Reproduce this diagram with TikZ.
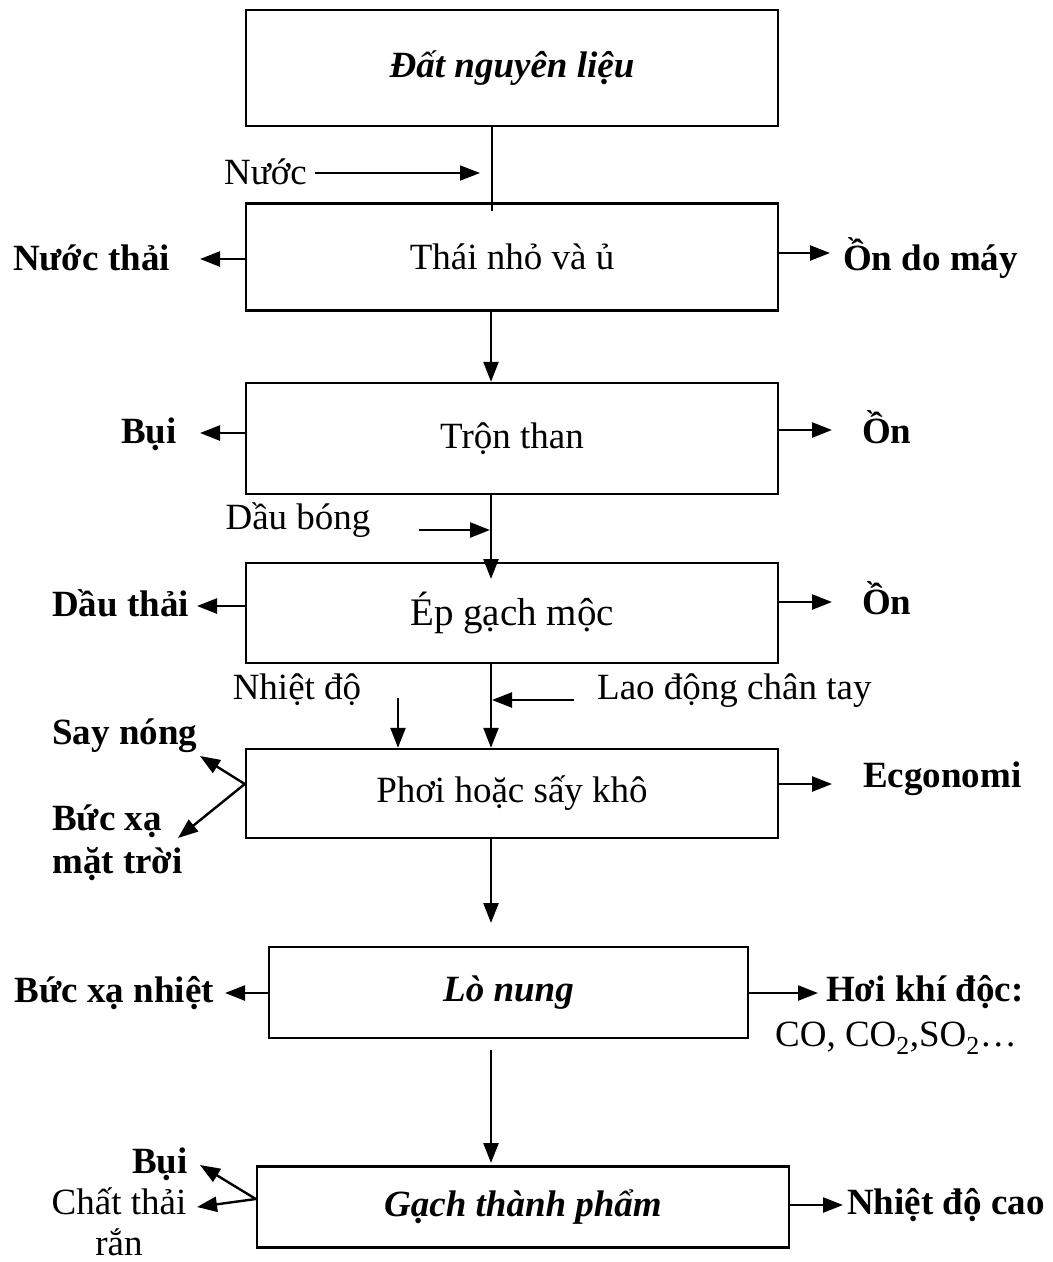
\documentclass[tikz,border=0pt]{standalone}
\usepackage{fontspec}
\setmainfont{Liberation Serif}
\usetikzlibrary{arrows.meta}
\begin{document}
\begin{tikzpicture}[x=1pt,y=-1pt,
  every node/.style={font=\fontsize{37}{43}\selectfont, inner sep=0pt},
  box/.style={draw, line width=2.4pt, minimum width=532pt},
  tip/.style={-{Triangle[length=20pt,width=15pt]}},
  arr/.style={line width=2.4pt, tip},
  thin/.style={line width=1.8pt}]
\useasboundingbox (0,0) rectangle (1053,1262);

% process boxes
\node[box, minimum height=116pt] (b1) at (512,68) {\textbf{\textit{Đất nguyên liệu}}};
\node[box, minimum height=107pt] (b2) at (512,257) {Thái nhỏ và ủ};
\node[box, minimum height=111pt] (b3) at (512,438.5) {Trộn than};
\node[box, minimum height=100pt] (b4) at (512,613) {\fontsize{39}{44}\selectfont Ép gạch mộc};
\node[box, minimum height=89pt] (b5) at (512,793.5) {Phơi hoặc sấy khô};
\node[box, minimum width=479pt, minimum height=91pt] (b6) at (508.5,992.5) {\textbf{\textit{Lò nung}}};
\node[box, minimum height=81pt] (b7) at (523,1207) {\textbf{\textit{Gạch thành phẩm}}};

% inputs and outputs
\node[anchor=mid east] (nuoc) at (307,182) {Nước};
\node[anchor=mid east] (nuocthai) at (170,268) {\textbf{Nước thải}};
\node[anchor=mid west] (onmay) at (843,268) {\textbf{Ồn do máy}};
\node[anchor=mid east] (bui1) at (177,441) {\textbf{Bụi}};
\node[anchor=mid west] (on1) at (862,441) {\textbf{Ồn}};
\node[anchor=mid] (daubong) at (298,527) {Dầu bóng};
\node[anchor=mid east] (dauthai) at (189,614) {\textbf{Dầu thải}};
\node[anchor=mid west] (on2) at (862,612) {\textbf{Ồn}};
\node[anchor=mid] (nhietdo) at (297,697) {Nhiệt độ};
\node[anchor=mid west] (laodong) at (597,697) {Lao động chân tay};
\node[anchor=mid west] (saynong) at (52,742) {\textbf{Say nóng}};
\node[anchor=north west, align=left] (bucxa) at (52,805) {\textbf{Bức xạ}\\\textbf{mặt trời}};
\node[anchor=mid west] (ecgo) at (863,785) {\textbf{Ecgonomi}};
\node[anchor=mid east] (bxnhiet) at (214,1000) {\textbf{Bức xạ nhiệt}};
\node[anchor=mid west] (khidoc) at (826,999) {\textbf{Hơi khí độc:}};
\node[anchor=base] (khi) at (896,1046) {CO, CO\textsubscript{2},SO\textsubscript{2}…};
\node[anchor=mid east] (bui2) at (188,1171) {\textbf{Bụi}};
\node[anchor=north, align=center, font=\fontsize{37}{41}\selectfont] (chatthai) at (119,1187) {Chất thải\\rắn};
\node[anchor=mid west] (nhietcao) at (847,1212) {\textbf{Nhiệt độ cao}};

% free arrow ends
\coordinate (col) at (491,0);
\coordinate (tNuoc) at (480,173);
\coordinate (tNuocthai) at (200,259);
\coordinate (tOnmay) at (830,253);
\coordinate (tBui1) at (200,433);
\coordinate (tOn1) at (832,430);
\coordinate (sDau) at (419,530);
\coordinate (tDau) at (490,530);
\coordinate (tDauthai) at (197,606);
\coordinate (tOn2) at (832,602);
\coordinate (sNhiet) at (398,698);
\coordinate (sLao) at (574,700);
\coordinate (tLao) at (492,700);
\coordinate (tSay) at (200,756);
\coordinate (tBucxa) at (178,838);
\coordinate (tEcgo) at (832,784);
\coordinate (tBxnhiet) at (225,993);
\coordinate (tKhidoc) at (818,993);
\coordinate (tBui2) at (200,1165);
\coordinate (tChat) at (197,1207);
\coordinate (tNhietcao) at (843,1205);

% main flow
\draw[thin] (b1.south -| 492,0) -- (492,211);
\draw[thin, tip] (nuoc.east |- tNuoc) ++(8,0) -- (tNuoc);
\draw[arr] (b2.south -| col) -- (b3.north -| col);
\draw[arr] (b3.south -| col) -- (491,579);
\draw[arr] (sDau) -- (tDau);
\draw[arr] (b4.south -| col) -- (b5.north -| col);
\draw[arr] (sNhiet) -- (b5.north -| sNhiet);
\draw[arr] (sLao) -- (tLao);
\draw[arr] (b5.south -| col) -- (491,923);
\draw[arr] (491,1050) -- (491,1163);

% side outputs
\draw[arr] (b2.west |- tNuocthai) -- (tNuocthai);
\draw[arr] (b2.east |- tOnmay) -- (tOnmay);
\draw[arr] (b3.west |- tBui1) -- (tBui1);
\draw[arr] (b3.east |- tOn1) -- (tOn1);
\draw[arr] (b4.west |- tDauthai) -- (tDauthai);
\draw[arr] (b4.east |- tOn2) -- (tOn2);
\draw[arr] (b5.west |- 0,784) -- (tSay);
\draw[arr] (b5.west |- 0,784) -- (tBucxa);
\draw[arr] (b5.east |- tEcgo) -- (tEcgo);
\draw[arr] (b6.west |- tBxnhiet) -- (tBxnhiet);
\draw[arr] (b6.east |- tKhidoc) -- (tKhidoc);
\draw[arr] (b7.west |- 0,1199) -- (tBui2);
\draw[arr] (b7.west |- 0,1199) -- (tChat);
\draw[arr] (b7.east |- tNhietcao) -- (tNhietcao);
\end{tikzpicture}
\end{document}
